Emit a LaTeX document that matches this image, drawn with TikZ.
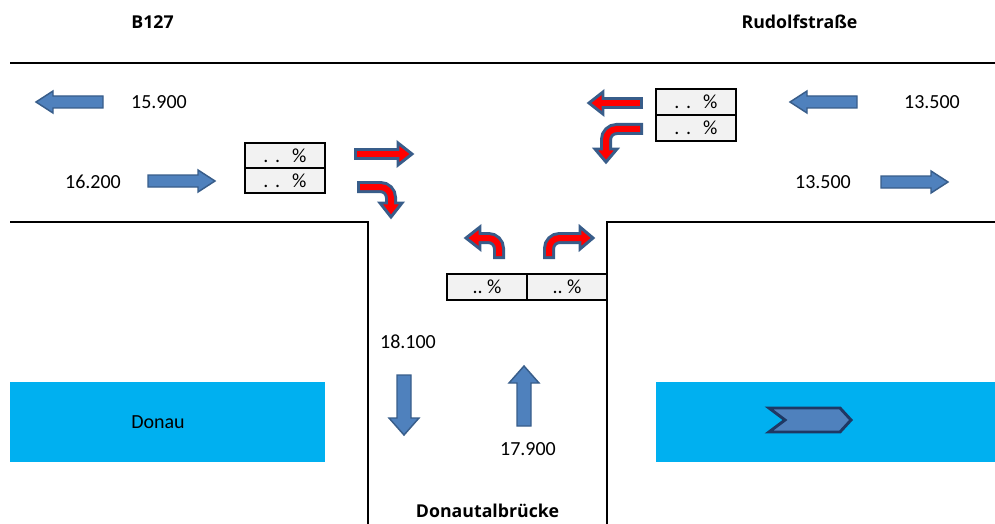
\documentclass[tikz,border=0pt]{standalone}
\usepackage{fontspec}
\setmainfont{Carlito}
\newfontfamily\titlefont{Open Sans}
\definecolor{afill}{HTML}{4F81BD}
\definecolor{abord}{HTML}{385D8A}
\definecolor{river}{HTML}{00B0F0}
\definecolor{boxfill}{HTML}{F2F2F2}
\definecolor{chevbord}{HTML}{1F3864}
\begin{document}
\begin{tikzpicture}[x=0.75pt,y=-0.75pt,
  road/.style={draw=black,line width=1.1pt},
  lbl/.style={font=\fontsize{15}{17}\selectfont,inner sep=0pt},
  title/.style={font=\titlefont\fontsize{13.3}{16}\selectfont\bfseries,inner sep=0pt},
  pct/.style={draw=black,line width=1.1pt,fill=boxfill,minimum width=60pt,inner sep=0pt,outer sep=0pt,font=\fontsize{15}{17}\selectfont},
  riv/.style={fill=river,draw=none},
  blk/.style={fill=afill,draw=abord,line width=1.1pt,line join=miter},
  rout/.style={draw=abord,line width=9pt,rounded corners=8pt},
  rin/.style={draw=red,line width=4.5pt,rounded corners=8pt},
  rhead/.style={fill=red,draw=abord,line width=2.2pt,line join=miter},
  chev/.style={fill=afill,draw=chevbord,line width=2.2pt,line join=miter}]
\useasboundingbox (0,0) rectangle (995,524);

% roads
\draw[road] (10,63) -- (995,63);
\draw[road] (10,222) -- (368,222) -- (368,524);
\draw[road] (995,222) -- (607,222) -- (607,524);

% river
\path[riv] (10,382) rectangle (325,462);
\path[riv] (656,382) rectangle (995,462);
\node[lbl] (donau) at (158,422) {Donau};
\draw[chev] (769,408) -- (840,408) -- (851,420) -- (840,432) -- (769,432) -- (785,420) -- cycle;

% titles
\node[title] (b127) at (152.5,22) {B127};
\node[title] (rudolf) at (799.5,22) {Rudolfstraße};
\node[title] (bruecke) at (487.5,511) {Donautalbrücke};

% numbers
\node[lbl] (n1) at (159,102) {15.900};
\node[lbl] (n2) at (93,182) {16.200};
\node[lbl] (n3) at (932,102) {13.500};
\node[lbl] (n4) at (823,182) {13.500};
\node[lbl] (n5) at (408,342) {18.100};
\node[lbl] (n6) at (528,449) {17.900};

% blue block arrows
\draw[blk,shift={(36,102)}] (0,0) -- (17,-11) -- (17,-6) -- (67,-6) -- (67,6) -- (17,6) -- (17,11) -- cycle;
\draw[blk,shift={(215,181)},rotate=180] (0,0) -- (17,-11) -- (17,-6) -- (67,-6) -- (67,6) -- (17,6) -- (17,11) -- cycle;
\draw[blk,shift={(790,102)}] (0,0) -- (17,-11) -- (17,-6) -- (67,-6) -- (67,6) -- (17,6) -- (17,11) -- cycle;
\draw[blk,shift={(948,182)},rotate=180] (0,0) -- (17,-11) -- (17,-6) -- (67,-6) -- (67,6) -- (17,6) -- (17,11) -- cycle;
\draw[blk,shift={(404,435)},rotate=90] (0,0) -- (17,-15) -- (17,-7) -- (60,-7) -- (60,7) -- (17,7) -- (17,15) -- cycle;
\draw[blk,shift={(524,366)},rotate=-90] (0,0) -- (17,-15) -- (17,-7) -- (60,-7) -- (60,7) -- (17,7) -- (17,15) -- cycle;

% percentage boxes
\node[pct,minimum height=18.75pt] (bl1) at (285,155.5) {.\,\,.\hspace{9pt}\%};
\node[pct,minimum height=18.75pt] (bl2) at (285,180.5) {.\,\,.\hspace{9pt}\%};
\node[pct,minimum height=19.5pt] (br1) at (696,102) {.\,\,.\hspace{9pt}\%};
\node[pct,minimum height=19.5pt] (br2) at (696,128) {.\,\,.\hspace{9pt}\%};
\node[pct,minimum height=19.5pt] (bb1) at (487,287) {..\ \%};
\node[pct,minimum height=19.5pt] (bb2) at (567,287) {..\ \%};

% red turning arrows
% 1 straight right
\draw[rout] (354,154) -- (400,154);
\draw[rhead] (398,143) -- (412,154) -- (398,165) -- cycle;
\draw[rin] (357,154) -- (401,154);
% 2 right turn down
\draw[rout] (357,187) -- (391,187) -- (391,205);
\draw[rhead] (380,203) -- (391,217) -- (402,203) -- cycle;
\draw[rin] (360,187) -- (391,187) -- (391,206);
% 3 straight left
\draw[rout] (643,103) -- (601,103);
\draw[rhead] (603,92) -- (589,103) -- (603,114) -- cycle;
\draw[rin] (640,103) -- (600,103);
% 4 left turn down
\draw[rout] (643,129) -- (606,129) -- (606,151);
\draw[rhead] (595,149) -- (606,162) -- (617,149) -- cycle;
\draw[rin] (640,129) -- (606,129) -- (606,152);
% 5 up turn left
\draw[rout] (499,259) -- (499,238) -- (478,238);
\draw[rhead] (480,227) -- (466,238) -- (480,249) -- cycle;
\draw[rin] (499,256) -- (499,238) -- (477,238);
% 6 up turn right
\draw[rout] (549,259) -- (549,238) -- (582,238);
\draw[rhead] (580,227) -- (593,238) -- (580,249) -- cycle;
\draw[rin] (549,256) -- (549,238) -- (583,238);
\end{tikzpicture}
\end{document}
